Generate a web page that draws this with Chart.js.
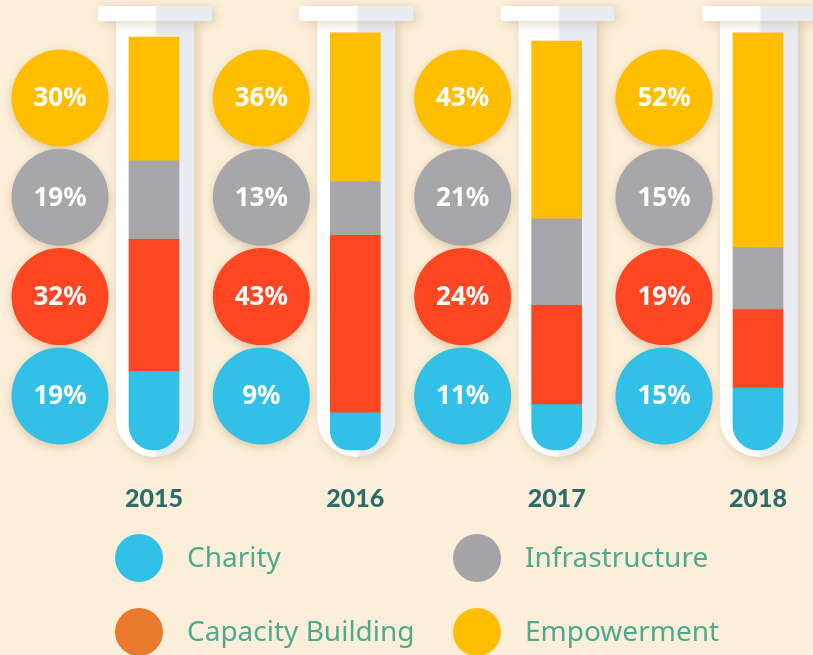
<!DOCTYPE html>
<html>
<head>
<meta charset="utf-8">
<script src="https://cdn.jsdelivr.net/npm/chart.js@4.4.0/dist/chart.umd.min.js"></script>
<style>
  html, body { margin: 0; padding: 0; background: #fcefd9; }
  .wrap { width: 813px; height: 655px; position: relative; }
</style>
</head>
<body>
<div class="wrap"><canvas id="chart"></canvas></div>
<script>
const years = ['2015', '2016', '2017', '2018'];
const charity = [19, 9, 11, 15];
const capacityBuilding = [32, 43, 24, 19];
const infrastructure = [19, 13, 21, 15];
const empowerment = [30, 36, 43, 52];

const seriesNames = ['Charity', 'Capacity Building', 'Infrastructure', 'Empowerment'];
const barColors = ['#33c0e6', '#ff4622', '#a7a7a9', '#ffbe00'];
const legendColors = ['#33c0e6', '#e97a2e', '#a5a5a7', '#ffbe00'];

const bg = '#fcefd9';
const yearColor = '#2d6c6b';
const legendText = '#4fa98f';

const background = {
  id: 'background',
  beforeDraw(chart) {
    const { ctx, width, height } = chart;
    ctx.save();
    ctx.fillStyle = bg;
    ctx.fillRect(0, 0, width, height);
    ctx.restore();
  }
};

// glass tubes behind every stacked bar
const tubes = {
  id: 'tubes',
  beforeDatasetsDraw(chart) {
    const { ctx } = chart;
    chart.getDatasetMeta(0).data.forEach(bar => {
      const cx = bar.x + 1;
      const grad = ctx.createLinearGradient(cx - 57, 0, cx + 57, 0);
      grad.addColorStop(0, '#ffffff');
      grad.addColorStop(0.5, '#ffffff');
      grad.addColorStop(0.52, '#e9ecf2');
      grad.addColorStop(1, '#e9ecf2');

      ctx.save();
      ctx.shadowColor = 'rgba(150, 110, 60, 0.3)';
      ctx.shadowBlur = 12;
      ctx.shadowOffsetX = 3;
      ctx.shadowOffsetY = 2;
      ctx.fillStyle = grad;
      ctx.beginPath();
      ctx.moveTo(cx - 39, 18);
      ctx.lineTo(cx - 39, 418);
      ctx.arc(cx, 418, 39, Math.PI, 0, true);
      ctx.lineTo(cx + 39, 18);
      ctx.closePath();
      ctx.fill();
      ctx.beginPath();
      ctx.roundRect(cx - 57, 6, 114, 15, 2);
      ctx.fill();
      ctx.restore();
    });
  }
};

// coloured circles holding the percentages
const circles = {
  id: 'circles',
  afterDatasetsDraw(chart) {
    const { ctx, chartArea: { top } } = chart;
    const sets = chart.data.datasets;
    chart.getDatasetMeta(0).data.forEach((bar, i) => {
      const cx = bar.x - 94;
      for (let row = 0; row < 4; row++) {
        const ds = sets[3 - row];
        const cy = top + 61 + row * 99.3;
        ctx.save();
        ctx.shadowColor = 'rgba(150, 110, 60, 0.3)';
        ctx.shadowBlur = 8;
        ctx.shadowOffsetY = 3;
        ctx.fillStyle = ds.backgroundColor;
        ctx.beginPath();
        ctx.arc(cx, cy, 48.5, 0, Math.PI * 2);
        ctx.fill();
        ctx.restore();

        ctx.save();
        ctx.fillStyle = '#ffffff';
        ctx.font = 'bold 26px "Noto Sans"';
        ctx.textAlign = 'center';
        ctx.textBaseline = 'middle';
        ctx.fillText(ds.data[i] + '%', cx, cy + 1);
        ctx.restore();
      }
    });
  }
};

const legendBox = {
  id: 'legendBox',
  afterDraw(chart) {
    const { ctx } = chart;
    const spots = [[139, 558], [139, 632], [477, 558], [477, 632]];
    seriesNames.forEach((name, i) => {
      const [x, y] = spots[i];
      ctx.save();
      ctx.fillStyle = legendColors[i];
      ctx.beginPath();
      ctx.arc(x, y, 24, 0, Math.PI * 2);
      ctx.fill();
      ctx.fillStyle = legendText;
      ctx.font = '28px "Noto Sans"';
      ctx.textBaseline = 'middle';
      ctx.fillText(name, x + 48, y + 1);
      ctx.restore();
    });
  }
};

const data = {
  labels: years,
  datasets: [charity, capacityBuilding, infrastructure, empowerment].map((vals, i) => ({
    label: seriesNames[i],
    data: vals,
    backgroundColor: barColors[i],
    borderWidth: 0,
    barThickness: 50,
    clip: false,
    borderSkipped: i === 0 ? false : 'start',
    borderRadius: i === 0 ? { topLeft: 0, topRight: 0, bottomLeft: 25, bottomRight: 25 } : 0,
  }))
};

const chart = new Chart(document.getElementById('chart'), {
  type: 'bar',
  data: data,
  plugins: [background, tubes, circles, legendBox],
  options: {
    responsive: true,
    maintainAspectRatio: false,
    animation: false,
    layout: {
      padding: { left: 154, right: 55, top: 37, bottom: 145 }
    },
    scales: {
      x: {
        stacked: true,
        offset: false,
        grid: { display: false, drawTicks: false },
        border: { display: false },
        ticks: {
          font: { family: 'Lato', weight: 900, size: 25 },
          color: yearColor,
          padding: 34,
        },
        afterFit: (axis) => {
          axis.height = 60;
          axis.paddingLeft = 0;
          axis.paddingRight = 0;
        }
      },
      y: {
        stacked: true,
        display: false,
        min: 0,
        max: 100,
      }
    },
    plugins: {
      legend: { display: false },
      tooltip: { enabled: false },
    },
  },
});
</script>
</body>
</html>
